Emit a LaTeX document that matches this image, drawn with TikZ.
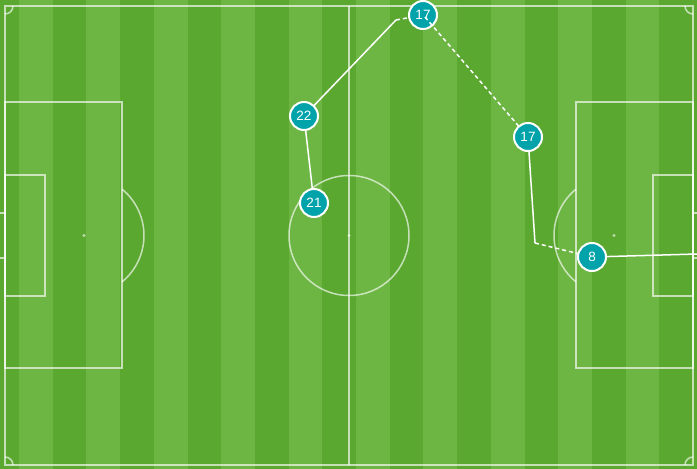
\documentclass[tikz,border=0pt]{standalone}
\usepackage{fontspec}
\usepackage{tkz-graph}
\newfontfamily\plfont{Liberation Sans}
\newcommand\plnum{\plfont\fontsize{13.5pt}{13.5pt}\selectfont}

\definecolor{grassdark}{RGB}{91,168,49}
\definecolor{grasslight}{RGB}{109,182,68}
\definecolor{plteal}{RGB}{0,163,170}

\tikzset{pitchline/.style={draw=white, draw opacity=0.65, line width=1.5pt},
         pitchspot/.style={fill=white, fill opacity=0.6}}

\begin{document}
\begin{tikzpicture}[x=1pt,y=-1pt]

  \SetVertexNormal[Shape      = circle,
                   FillColor  = plteal,
                   LineColor  = white,
                   LineWidth  = 2pt]
  \tikzset{VertexStyle/.append style={minimum size=28pt, inner sep=0pt,
           text=white, execute at begin node=\plnum}}

\useasboundingbox (0,0) rectangle (697,469);

% grass
\fill[grassdark] (0,0) rectangle (697,469);
\foreach \s in {0,...,9}
  \fill[grasslight] (19+67.4*\s,0) rectangle (52.7+67.4*\s,469);

% pitch
\draw[pitchline] (5,6) rectangle (693,465);
\draw[pitchline] (349,6) -- (349,465);
\draw[pitchline] (349,235.5) circle (60);
\draw[pitchline] (5,102) rectangle (122,368);     % left box
\draw[pitchline] (5,175) rectangle (45,296);
\draw[pitchline] (576,102) rectangle (693,368);   % right box
\draw[pitchline] (653,175) rectangle (693,296);
\draw[pitchline] (122,189.1) arc[start angle=-50.7, end angle=50.7, radius=60];
\draw[pitchline] (576,189.1) arc[start angle=230.7, end angle=129.3, radius=60];
\draw[pitchline] (13,6) arc[start angle=0, end angle=90, radius=8];
\draw[pitchline] (685,6) arc[start angle=180, end angle=90, radius=8];
\draw[pitchline] (13,465) arc[start angle=0, end angle=-90, radius=8];
\draw[pitchline] (685,465) arc[start angle=180, end angle=270, radius=8];
\draw[pitchline] (0,213) -- (5,213) (0,258) -- (5,258);
\draw[pitchline] (693,213) -- (697,213) (693,258) -- (697,258);
\fill[pitchspot] (84,235.5) circle (1.6);
\fill[pitchspot] (349,235.5) circle (1.6);
\fill[pitchspot] (614,235.5) circle (1.6);

% players
\Vertex[x=423, y=15, L=17]{ptop}
\Vertex[x=304, y=116, L=22]{p22}
\Vertex[x=314, y=203, L=21]{p21}
\Vertex[x=528, y=137, L=17]{p17}
\Vertex[x=592, y=257, L=8, style={line width=3.5pt}]{p8}

\coordinate (recv) at (396,20);
\coordinate (pass) at (425,17);
\coordinate (carry) at (535,243);
\coordinate (exit) at (697,254);

\tikzset{EdgeStyle/.style={draw=white, line width=1.5pt}}
     \Edges(p21, p22)
     \Edges(p22, recv)
     \Edges(p17, carry)
     \Edges(p8, exit)

\tikzset{EdgeStyle/.style={draw=white, line width=1.5pt, dash pattern=on 4pt off 3pt}}
     \Edges(recv, ptop)
     \Edges(pass, p17)
     \Edges(carry, p8)

\end{tikzpicture}
\end{document}
